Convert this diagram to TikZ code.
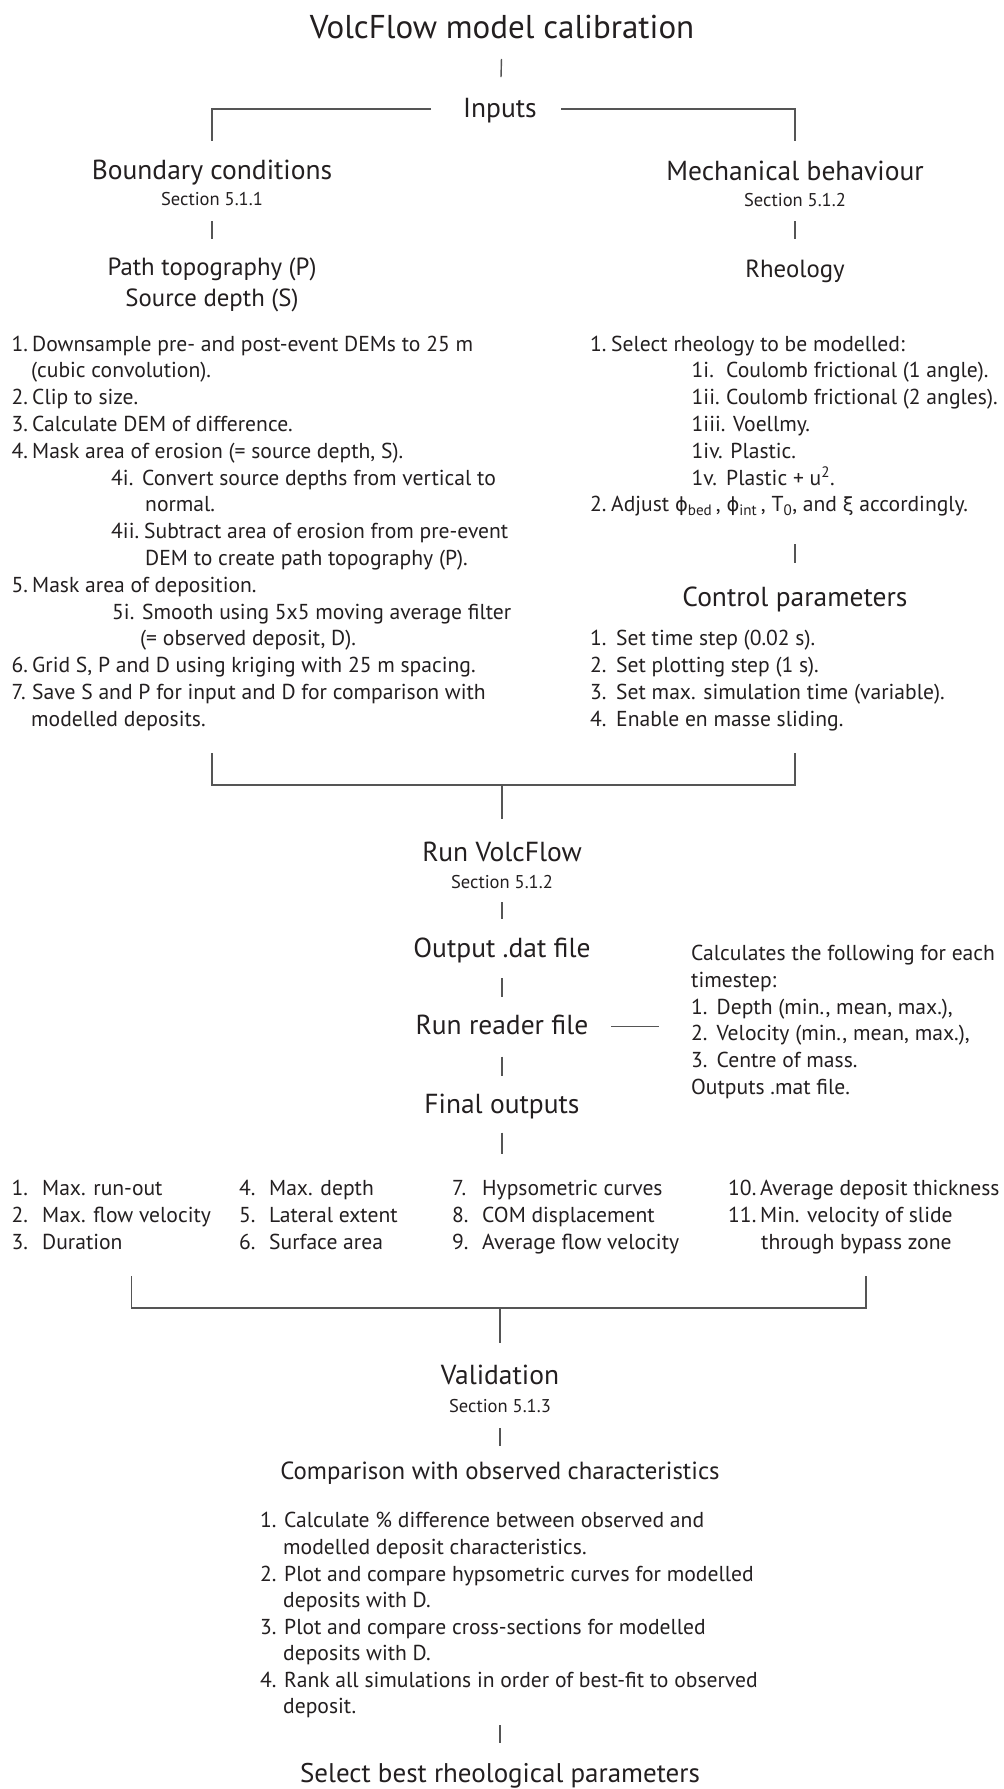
\documentclass[tikz,border=0pt]{standalone}
\usepackage{fontspec}
\setmainfont{PT Sans}
\newfontfamily\gk{DejaVu Sans}[Scale=0.9]
\definecolor{ink}{HTML}{231F20}
\definecolor{wirec}{HTML}{555555}
\newcommand\numbox[2]{\makebox[#1pt][l]{#2}}
\begin{document}
\begin{tikzpicture}[x=1pt,y=-1pt,
  every node/.style={inner sep=0pt, text=ink},
  ttl/.style={font=\fontsize{33}{38}\selectfont, anchor=base},
  hd/.style={font=\fontsize{27.5}{32}\selectfont, anchor=base},
  md/.style={font=\fontsize{24.8}{29}\selectfont, anchor=base},
  sec/.style={font=\fontsize{18.5}{22}\selectfont, anchor=base},
  bd/.style={font=\fontsize{21.6}{25}\selectfont, anchor=base west},
  wire/.style={draw=wirec, line width=1.4pt},
]
\fill[white] (0,0) rectangle (1004,1789);
\useasboundingbox (0,0) rectangle (1004,1789);

% ---- top
\node[ttl] (title) at (502,38) {VolcFlow model calibration};
\node[hd] (inputs) at (500,117.4) {Inputs};
\draw[wire, shorten <=21, shorten >=40.4] (title.base) -- (inputs.base);
\coordinate (inL) at (431,109);
\coordinate (inR) at (561,109);

\node[hd] (bc) at (212,179.6) {Boundary conditions};
\node[sec] (sec1) at (212,205.3) {Section 5.1.1};
\node[md] (pt) at (212,275.8) {Path topography (P)};
\node[md] (sd) at (212,306.6) {Source depth (S)};

\node[hd] (mb) at (795,180.9) {Mechanical behaviour};
\node[sec] (sec2) at (795,206.5) {Section 5.1.2};
\node[md] (rheo) at (795,277.7) {Rheology};

\draw[wire, shorten >=38.6] (inL) -| (bc.base);
\draw[wire, shorten >=39.9] (inR) -| (mb.base);
\draw[wire, shorten <=15.7, shorten >=36.8] (sec1.base) -- (pt.base);
\draw[wire, shorten <=14.5, shorten >=38.7] (sec2.base) -- (rheo.base);

% ---- left list
\node[bd] (l0)  at (11.5,351) {\numbox{20.5}{1.}Downsample pre- and post-event DEMs to 25 m};
\node[bd] (l1)  at (31,377.8) {(cubic convolution).};
\node[bd] (l2)  at (11.5,404.6) {\numbox{20.5}{2.}Clip to size.};
\node[bd] (l3)  at (11.5,431.4) {\numbox{20.5}{3.}Calculate DEM of difference.};
\node[bd] (l4)  at (11.5,458.2) {\numbox{20.5}{4.}Mask area of erosion (= source depth, S).};
\node[bd] (l5)  at (111,485) {\numbox{31}{4i.}Convert source depths from vertical to};
\node[bd] (l6)  at (145,511.8) {normal.};
\node[bd] (l7)  at (111,538.6) {\numbox{33}{4ii.}Subtract area of erosion from pre-event};
\node[bd] (l8)  at (145,565.4) {DEM to create path topography (P).};
\node[bd] (l9)  at (11.5,592.2) {\numbox{20.5}{5.}Mask area of deposition.};
\node[bd] (l10) at (112,619) {\numbox{30}{5i.}Smooth using 5x5 moving average filter};
\node[bd] (l11) at (140,645.8) {(= observed deposit, D).};
\node[bd] (l12) at (11.5,672.6) {\numbox{20.5}{6.}Grid S, P and D using kriging with 25 m spacing.};
\node[bd] (l13) at (11.5,699.4) {\numbox{20.5}{7.}Save S and P for input and D for comparison with};
\node[bd] (l14) at (31,726.2) {modelled deposits.};

% ---- right list
\node[bd] (r0) at (590,351) {\numbox{21}{1.}Select rheology to be modelled:};
\node[bd] (r1) at (691.5,377.8) {\numbox{34.5}{1i.}Coulomb frictional (1 angle).};
\node[bd] (r2) at (691.5,404.6) {\numbox{34.5}{1ii.}Coulomb frictional (2 angles).};
\node[bd] (r3) at (691.5,431.4) {1iii. Voellmy.};
\node[bd] (r4) at (691.5,458.2) {1iv. Plastic.};
\node[bd] (r5) at (691.5,485) {\numbox{34.5}{1v.}Plastic + u\textsuperscript{2}.};
\node[bd] (r6) at (590,511.8) {\numbox{21}{2.}Adjust {\gk ϕ}\textsubscript{bed}\,, {\gk ϕ}\textsubscript{int}\,, T\textsubscript{0}, and {\gk ξ} accordingly.};

\coordinate (cpTop) at (795,544);
\node[hd] (ctrl) at (795,606.8) {Control parameters};
\draw[wire, shorten >=43.8] (cpTop) -- (ctrl.base);

\node[bd] (c1) at (590,645.2) {\numbox{26}{1.}Set time step (0.02 s).};
\node[bd] (c2) at (590,672.2) {\numbox{26}{2.}Set plotting step (1 s).};
\node[bd] (c3) at (590,699.1) {\numbox{26}{3.}Set max. simulation time (variable).};
\node[bd] (c4) at (590,726) {\numbox{26}{4.}Enable en masse sliding.};

% ---- bracket 1
\coordinate (b1a) at (212,753);
\coordinate (b1b) at (212,785);
\coordinate (b1c) at (795,785);
\coordinate (b1d) at (795,753);
\coordinate (b1m) at (502,785);
\draw[wire] (b1a) -- (b1b) -- (b1c) -- (b1d);

\node[hd] (run) at (502,861) {Run VolcFlow};
\node[sec] (sec3) at (502,888) {Section 5.1.2};
\node[hd] (out) at (502,957) {Output .dat file};
\node[hd] (reader) at (502,1034.5) {Run reader file};
\node[hd] (final) at (502,1113) {Final outputs};
\coordinate (fm) at (502,1154);

\draw[wire, shorten >=42] (b1m) -- (run.base);
\draw[wire, shorten <=14, shorten >=38] (sec3.base) -- (out.base);
\draw[wire, shorten <=21, shorten >=38] (out.base) -- (reader.base);
\draw[wire, shorten <=22, shorten >=37.4] (reader.base) -- (final.base);
\draw[wire, shorten <=19.6] (final.base) -- (fm);

\coordinate (rdA) at (611,1026.5);
\coordinate (rdB) at (659,1026.5);
\draw[wire] (rdA) -- (rdB);

\node[bd] (k0) at (691,960.1) {Calculates the following for each};
\node[bd] (k1) at (691,987) {timestep:};
\node[bd] (k2) at (691,1014) {\numbox{25.5}{1.}Depth (min., mean, max.),};
\node[bd] (k3) at (691,1040.9) {\numbox{25.5}{2.}Velocity (min., mean, max.),};
\node[bd] (k4) at (691,1067.8) {\numbox{25.5}{3.}Centre of mass.};
\node[bd] (k5) at (691,1094.1) {Outputs .mat file.};

% ---- outputs
\node[bd] (o1) at (11.5,1195.5) {\numbox{30.5}{1.}Max. run-out};
\node[bd] (o2) at (11.5,1222.4) {\numbox{30.5}{2.}Max. flow velocity};
\node[bd] (o3) at (11.5,1249.3) {\numbox{30.5}{3.}Duration};
\node[bd] (o4) at (239,1195.5) {\numbox{30}{4.}Max. depth};
\node[bd] (o5) at (239,1222.4) {\numbox{30}{5.}Lateral extent};
\node[bd] (o6) at (239,1249.3) {\numbox{30}{6.}Surface area};
\node[bd] (o7) at (452,1195.5) {\numbox{30}{7.}Hypsometric curves};
\node[bd] (o8) at (452,1222.4) {\numbox{30}{8.}COM displacement};
\node[bd] (o9) at (452,1249.3) {\numbox{30}{9.}Average flow velocity};
\node[bd] (o10) at (728,1195.5) {\numbox{32}{10.}Average deposit thickness};
\node[bd] (o11) at (728,1222.4) {\numbox{32}{11.}Min. velocity of slide};
\node[bd] (o12) at (761,1249.3) {through bypass zone};

% ---- bracket 2
\coordinate (b2a) at (131.5,1276);
\coordinate (b2b) at (131.5,1308);
\coordinate (b2c) at (866,1308);
\coordinate (b2d) at (866,1276);
\coordinate (b2m) at (500,1308);
\draw[wire] (b2a) -- (b2b) -- (b2c) -- (b2d);

\node[hd] (val) at (500,1384) {Validation};
\node[sec] (sec4) at (500,1412.3) {Section 5.1.3};
\node[md] (comp) at (500,1479.7) {Comparison with observed characteristics};
\draw[wire, shorten >=41] (b2m) -- (val.base);
\draw[wire, shorten <=15.7, shorten >=33.7] (sec4.base) -- (comp.base);

\node[bd] (v1) at (260,1527.7) {\numbox{24}{1.}Calculate \% difference between observed and};
\node[bd] (v2) at (283,1554.7) {modelled deposit characteristics.};
\node[bd] (v3) at (260,1581) {\numbox{24}{2.}Plot and compare hypsometric curves for modelled};
\node[bd] (v4) at (283,1607.9) {deposits with D.};
\node[bd] (v5) at (260,1634.2) {\numbox{24}{3.}Plot and compare cross-sections for modelled};
\node[bd] (v6) at (283,1660.8) {deposits with D.};
\node[bd] (v7) at (260,1687.1) {\numbox{24}{4.}Rank all simulations in order of best-fit to observed};
\node[bd] (v8) at (283,1713.5) {deposit.};

\coordinate (cl) at (500,1725);
\node[hd, font=\fontsize{27}{32}\selectfont] (sel) at (500,1782) {Select best rheological parameters};
\draw[wire, shorten >=39] (cl) -- (sel.base);
\end{tikzpicture}
\end{document}
